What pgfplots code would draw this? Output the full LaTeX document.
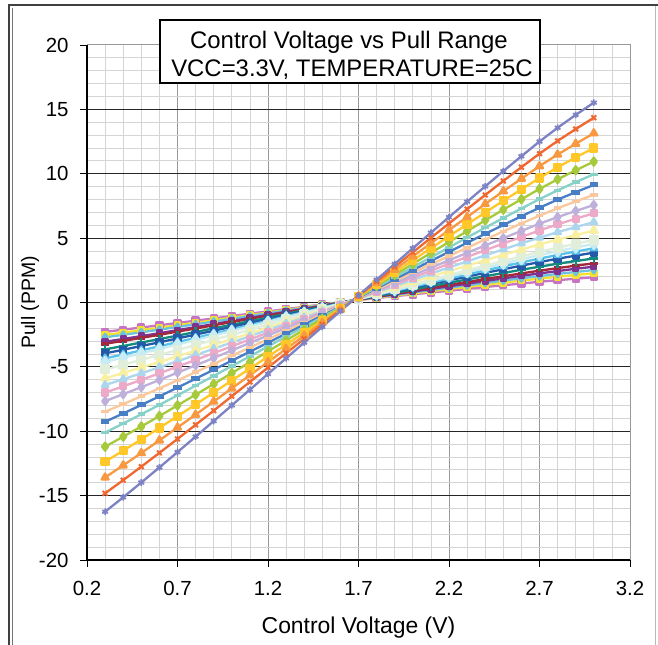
\documentclass[border=0pt]{standalone}
\usepackage{fontspec}
\setmainfont{Liberation Sans}
\usepackage{graphicx}
\usepackage{pgfplots}
\usepackage{pgfplotstable}
\pgfplotsset{compat=1.18}
\definecolor{c1}{RGB}{124,130,196}
\definecolor{c2}{RGB}{240,104,48}
\definecolor{c3}{RGB}{248,152,64}
\definecolor{c4}{RGB}{255,200,40}
\definecolor{c5}{RGB}{166,202,60}
\definecolor{c6}{RGB}{134,210,200}
\definecolor{c7}{RGB}{72,126,198}
\definecolor{c8}{RGB}{250,200,156}
\definecolor{c9}{RGB}{190,176,218}
\definecolor{c10}{RGB}{236,170,200}
\definecolor{c11}{RGB}{172,214,238}
\definecolor{c12}{RGB}{248,240,160}
\definecolor{c13}{RGB}{224,238,218}
\definecolor{c14}{RGB}{200,236,244}
\definecolor{c15}{RGB}{90,194,234}
\definecolor{c16}{RGB}{36,88,168}
\definecolor{c17}{RGB}{20,138,126}
\definecolor{c18}{RGB}{162,40,62}
\definecolor{c19}{RGB}{126,50,144}
\definecolor{c20}{RGB}{108,192,224}
\definecolor{c21}{RGB}{242,226,46}
\definecolor{c22}{RGB}{200,116,196}
\pgfplotstableread{
x s1 s2 s3 s4 s5 s6 s7 s8 s9 s10 s11 s12 s13 s14 s15 s16 s17 s18 s19 s20 s21 s22
0.3 -16.25 -14.82 -13.59 -12.36 -11.20 -10.10 -9.26 -8.48 -7.66 -7.00 -6.41 -5.89 -5.20 -4.61 -4.34 -3.95 -3.64 -3.21 -3.05 -2.70 -2.52 -2.28
0.4 -15.13 -13.80 -12.65 -11.51 -10.42 -9.40 -8.62 -7.89 -7.12 -6.51 -5.96 -5.47 -4.83 -4.28 -4.04 -3.67 -3.38 -2.98 -2.83 -2.51 -2.34 -2.11
0.5 -13.98 -12.75 -11.69 -10.63 -9.63 -8.68 -7.96 -7.28 -6.58 -6.01 -5.50 -5.05 -4.46 -3.95 -3.72 -3.38 -3.11 -2.75 -2.61 -2.31 -2.15 -1.94
0.6 -12.81 -11.68 -10.71 -9.74 -8.82 -7.95 -7.29 -6.67 -6.02 -5.50 -5.03 -4.62 -4.07 -3.61 -3.40 -3.09 -2.84 -2.51 -2.38 -2.11 -1.96 -1.77
0.7 -11.62 -10.60 -9.71 -8.83 -7.99 -7.21 -6.61 -6.04 -5.45 -4.98 -4.56 -4.18 -3.69 -3.26 -3.07 -2.79 -2.57 -2.26 -2.15 -1.90 -1.77 -1.59
0.8 -10.42 -9.50 -8.71 -7.92 -7.16 -6.46 -5.92 -5.41 -4.88 -4.46 -4.08 -3.74 -3.30 -2.92 -2.75 -2.49 -2.29 -2.02 -1.91 -1.69 -1.57 -1.41
0.9 -9.21 -8.40 -7.69 -6.99 -6.33 -5.70 -5.22 -4.77 -4.31 -3.93 -3.59 -3.29 -2.90 -2.56 -2.41 -2.19 -2.01 -1.77 -1.68 -1.48 -1.38 -1.24
1.0 -7.99 -7.28 -6.67 -6.06 -5.48 -4.94 -4.52 -4.13 -3.72 -3.40 -3.11 -2.85 -2.50 -2.21 -2.08 -1.89 -1.73 -1.52 -1.44 -1.27 -1.18 -1.05
1.1 -6.77 -6.17 -5.65 -5.13 -4.64 -4.18 -3.82 -3.49 -3.14 -2.87 -2.62 -2.40 -2.11 -1.86 -1.75 -1.58 -1.45 -1.27 -1.20 -1.05 -0.98 -0.87
1.2 -5.55 -5.05 -4.63 -4.20 -3.79 -3.41 -3.12 -2.85 -2.56 -2.34 -2.13 -1.95 -1.71 -1.50 -1.41 -1.28 -1.17 -1.02 -0.96 -0.84 -0.78 -0.69
1.3 -4.33 -3.94 -3.60 -3.27 -2.95 -2.65 -2.42 -2.21 -1.98 -1.80 -1.64 -1.50 -1.31 -1.15 -1.08 -0.97 -0.88 -0.77 -0.72 -0.63 -0.58 -0.51
1.4 -3.11 -2.83 -2.58 -2.34 -2.11 -1.89 -1.72 -1.56 -1.40 -1.27 -1.15 -1.05 -0.91 -0.80 -0.74 -0.67 -0.60 -0.52 -0.49 -0.42 -0.38 -0.33
1.5 -1.89 -1.71 -1.56 -1.41 -1.26 -1.13 -1.02 -0.92 -0.82 -0.74 -0.67 -0.60 -0.52 -0.44 -0.41 -0.36 -0.32 -0.27 -0.25 -0.20 -0.18 -0.15
1.6 -0.67 -0.60 -0.54 -0.48 -0.42 -0.36 -0.32 -0.28 -0.24 -0.21 -0.18 -0.15 -0.12 -0.09 -0.07 -0.06 -0.04 -0.02 -0.01 0.01 0.02 0.03
1.7 0.55 0.52 0.49 0.46 0.43 0.41 0.38 0.36 0.34 0.33 0.31 0.29 0.27 0.26 0.26 0.25 0.24 0.23 0.22 0.21 0.21 0.20
1.8 1.77 1.65 1.52 1.40 1.29 1.18 1.10 1.02 0.93 0.86 0.79 0.72 0.65 0.61 0.58 0.54 0.50 0.45 0.43 0.40 0.37 0.34
1.9 2.99 2.77 2.55 2.34 2.14 1.96 1.81 1.67 1.52 1.40 1.27 1.15 1.02 0.96 0.90 0.84 0.75 0.68 0.64 0.59 0.54 0.49
2.0 4.21 3.90 3.58 3.28 3.00 2.74 2.52 2.32 2.11 1.94 1.76 1.58 1.39 1.31 1.22 1.13 1.01 0.91 0.84 0.78 0.71 0.63
2.1 5.42 5.02 4.60 4.21 3.85 3.51 3.23 2.96 2.70 2.47 2.24 2.01 1.76 1.66 1.54 1.43 1.27 1.14 1.05 0.96 0.88 0.77
2.2 6.63 6.14 5.63 5.15 4.70 4.28 3.93 3.61 3.28 3.01 2.72 2.44 2.13 2.00 1.86 1.72 1.53 1.37 1.26 1.15 1.04 0.91
2.3 7.83 7.25 6.64 6.07 5.54 5.05 4.64 4.25 3.86 3.54 3.19 2.86 2.50 2.35 2.18 2.01 1.79 1.59 1.46 1.33 1.21 1.06
2.4 9.02 8.35 7.65 6.99 6.38 5.81 5.33 4.89 4.43 4.06 3.66 3.28 2.86 2.69 2.49 2.30 2.04 1.82 1.67 1.52 1.37 1.20
2.5 10.20 9.44 8.64 7.90 7.21 6.56 6.02 5.52 5.00 4.58 4.13 3.70 3.23 3.02 2.80 2.58 2.29 2.04 1.87 1.70 1.54 1.34
2.6 11.36 10.51 9.62 8.79 8.02 7.30 6.70 6.14 5.56 5.09 4.59 4.11 3.58 3.36 3.11 2.86 2.54 2.26 2.07 1.88 1.70 1.47
2.7 12.50 11.56 10.59 9.67 8.82 8.03 7.36 6.74 6.12 5.60 5.04 4.51 3.93 3.68 3.41 3.14 2.78 2.47 2.26 2.05 1.85 1.61
2.8 13.57 12.55 11.49 10.50 9.57 8.71 7.99 7.32 6.63 6.07 5.46 4.89 4.26 3.99 3.69 3.40 3.01 2.67 2.44 2.22 2.00 1.73
2.9 14.57 13.47 12.33 11.27 10.27 9.35 8.57 7.85 7.11 6.51 5.86 5.24 4.56 4.27 3.96 3.64 3.22 2.86 2.62 2.37 2.14 1.85
3.0 15.52 14.35 13.14 12.00 10.94 9.96 9.13 8.36 7.57 6.93 6.24 5.58 4.85 4.55 4.21 3.87 3.42 3.04 2.78 2.52 2.27 1.96
}\data
\begin{document}
\begin{tikzpicture}[x=1bp,y=1bp]
\path[use as bounding box] (0,0) rectangle (658,645);
\fill[white] (0,0) rectangle (658,645);
\begin{axis}[
  at={(87bp,85bp)}, anchor=south west,
  scale only axis, width=543bp, height=515bp,
  xmin=0.2, xmax=3.2, ymin=-20, ymax=20,
  xtick={0.2,0.7,1.2,1.7,2.2,2.7,3.2},
  xticklabels={0.2,0.7,1.2,1.7,2.2,2.7,3.2},
  ytick={-20,-15,-10,-5,0,5,10,15,20},
  yticklabels={-20,-15,-10,-5,0,5,10,15,20},
  minor x tick num=4, minor y tick num=4,
  xmajorgrids, xminorgrids, yminorgrids,
  major grid style={draw=black!40, line width=0.8bp},
  minor grid style={draw=black!17, line width=0.8bp},
  extra y ticks={-15,-10,-5,0,5,10,15},
  extra y tick labels={},
  extra y tick style={grid=major, major grid style={draw=black!85, line width=0.9bp}},
  axis line style={draw=black!40, line width=1bp},
  tick align=outside, tick pos=left,
  major tick length=7bp, minor tick length=0pt,
  tick style={black, line width=0.8bp},
  tick label style={font=\fontsize{20.5}{24}\selectfont},
  yticklabel style={anchor=east, xshift=-8bp},
  xticklabel style={anchor=north, yshift=-11bp},
  xlabel={Control Voltage (V)},
  ylabel={Pull (PPM)},
  xlabel style={at={(axis description cs:0.5,0)}, anchor=base, yshift=-73.3bp, font=\fontsize{23}{27}\selectfont},
  ylabel style={at={(axis description cs:0,0.5)}, anchor=base, yshift=52bp, font=\fontsize{19.5}{23}\selectfont},
  every axis plot/.append style={line width=2.3bp, line join=round},
]
\addplot[c22, mark=square*, mark size=3bp] table[x=x,y=s22]{\data};
\addplot[c21, mark=square*, mark size=2.7bp] table[x=x,y=s21]{\data};
\addplot[c20, mark=diamond*, mark size=3.3bp] table[x=x,y=s20]{\data};
\addplot[c19, mark=square*, mark size=2.5bp] table[x=x,y=s19]{\data};
\addplot[c18, mark=-, mark size=3.8bp, mark options={line width=3.5bp}] table[x=x,y=s18]{\data};
\addplot[c17, mark=+, mark size=4.5bp, mark options={line width=2.3bp}] table[x=x,y=s17]{\data};
\addplot[c16, mark=square*, mark size=3bp] table[x=x,y=s16]{\data};
\addplot[c15, mark=triangle*, mark size=3.8bp] table[x=x,y=s15]{\data};
\addplot[c14, mark=diamond*, mark size=5bp] table[x=x,y=s14]{\data};
\addplot[c13, mark=square*, mark size=3.8bp] table[x=x,y=s13]{\data};
\addplot[c12, mark=triangle*, mark size=4.3bp] table[x=x,y=s12]{\data};
\addplot[c11, mark=triangle*, mark size=3.8bp] table[x=x,y=s11]{\data};
\addplot[c10, mark=square*, mark size=3bp] table[x=x,y=s10]{\data};
\addplot[c9, mark=diamond*, mark size=3.8bp] table[x=x,y=s9]{\data};
\addplot[c8, mark=-, mark size=3.8bp, mark options={line width=3.5bp}] table[x=x,y=s8]{\data};
\addplot[c7, mark=-, mark size=4.3bp, mark options={line width=5bp}] table[x=x,y=s7]{\data};
\addplot[c6, mark=-, mark size=3.8bp, mark options={line width=3.5bp}] table[x=x,y=s6]{\data};
\addplot[c5, mark=diamond*, mark size=4bp] table[x=x,y=s5]{\data};
\addplot[c4, mark=square*, mark size=3.5bp] table[x=x,y=s4]{\data};
\addplot[c3, mark=triangle*, mark size=4bp] table[x=x,y=s3]{\data};
\addplot[c2, mark=x, mark size=3.3bp, mark options={line width=2bp}] table[x=x,y=s2]{\data};
\addplot[c1, mark=asterisk, mark size=3.3bp, mark options={line width=1.7bp}] table[x=x,y=s1]{\data};
\end{axis}
\draw[black, line width=1.2bp] (87,600) -- (87,85) -- (630,85);
\filldraw[fill=white, draw=black, line width=1.8bp] (160,562) rectangle (540,625);
\node[anchor=base, inner sep=0pt, font=\fontsize{24}{28}\selectfont] at (349,596.7) {Control Voltage vs Pull Range};
\node[anchor=base, inner sep=0pt, font=\fontsize{24}{28}\selectfont] at (352,568.3) {VCC=3.3V, TEMPERATURE=25C};
\draw[black!75, line width=2bp] (9,0) -- (9,639.5) -- (658,639.5);
\draw[black!55, line width=1bp] (12.8,0) -- (12.8,637);
\draw[black!28, line width=1.2bp] (655.5,0) -- (655.5,638.5);
\end{tikzpicture}
\end{document}
